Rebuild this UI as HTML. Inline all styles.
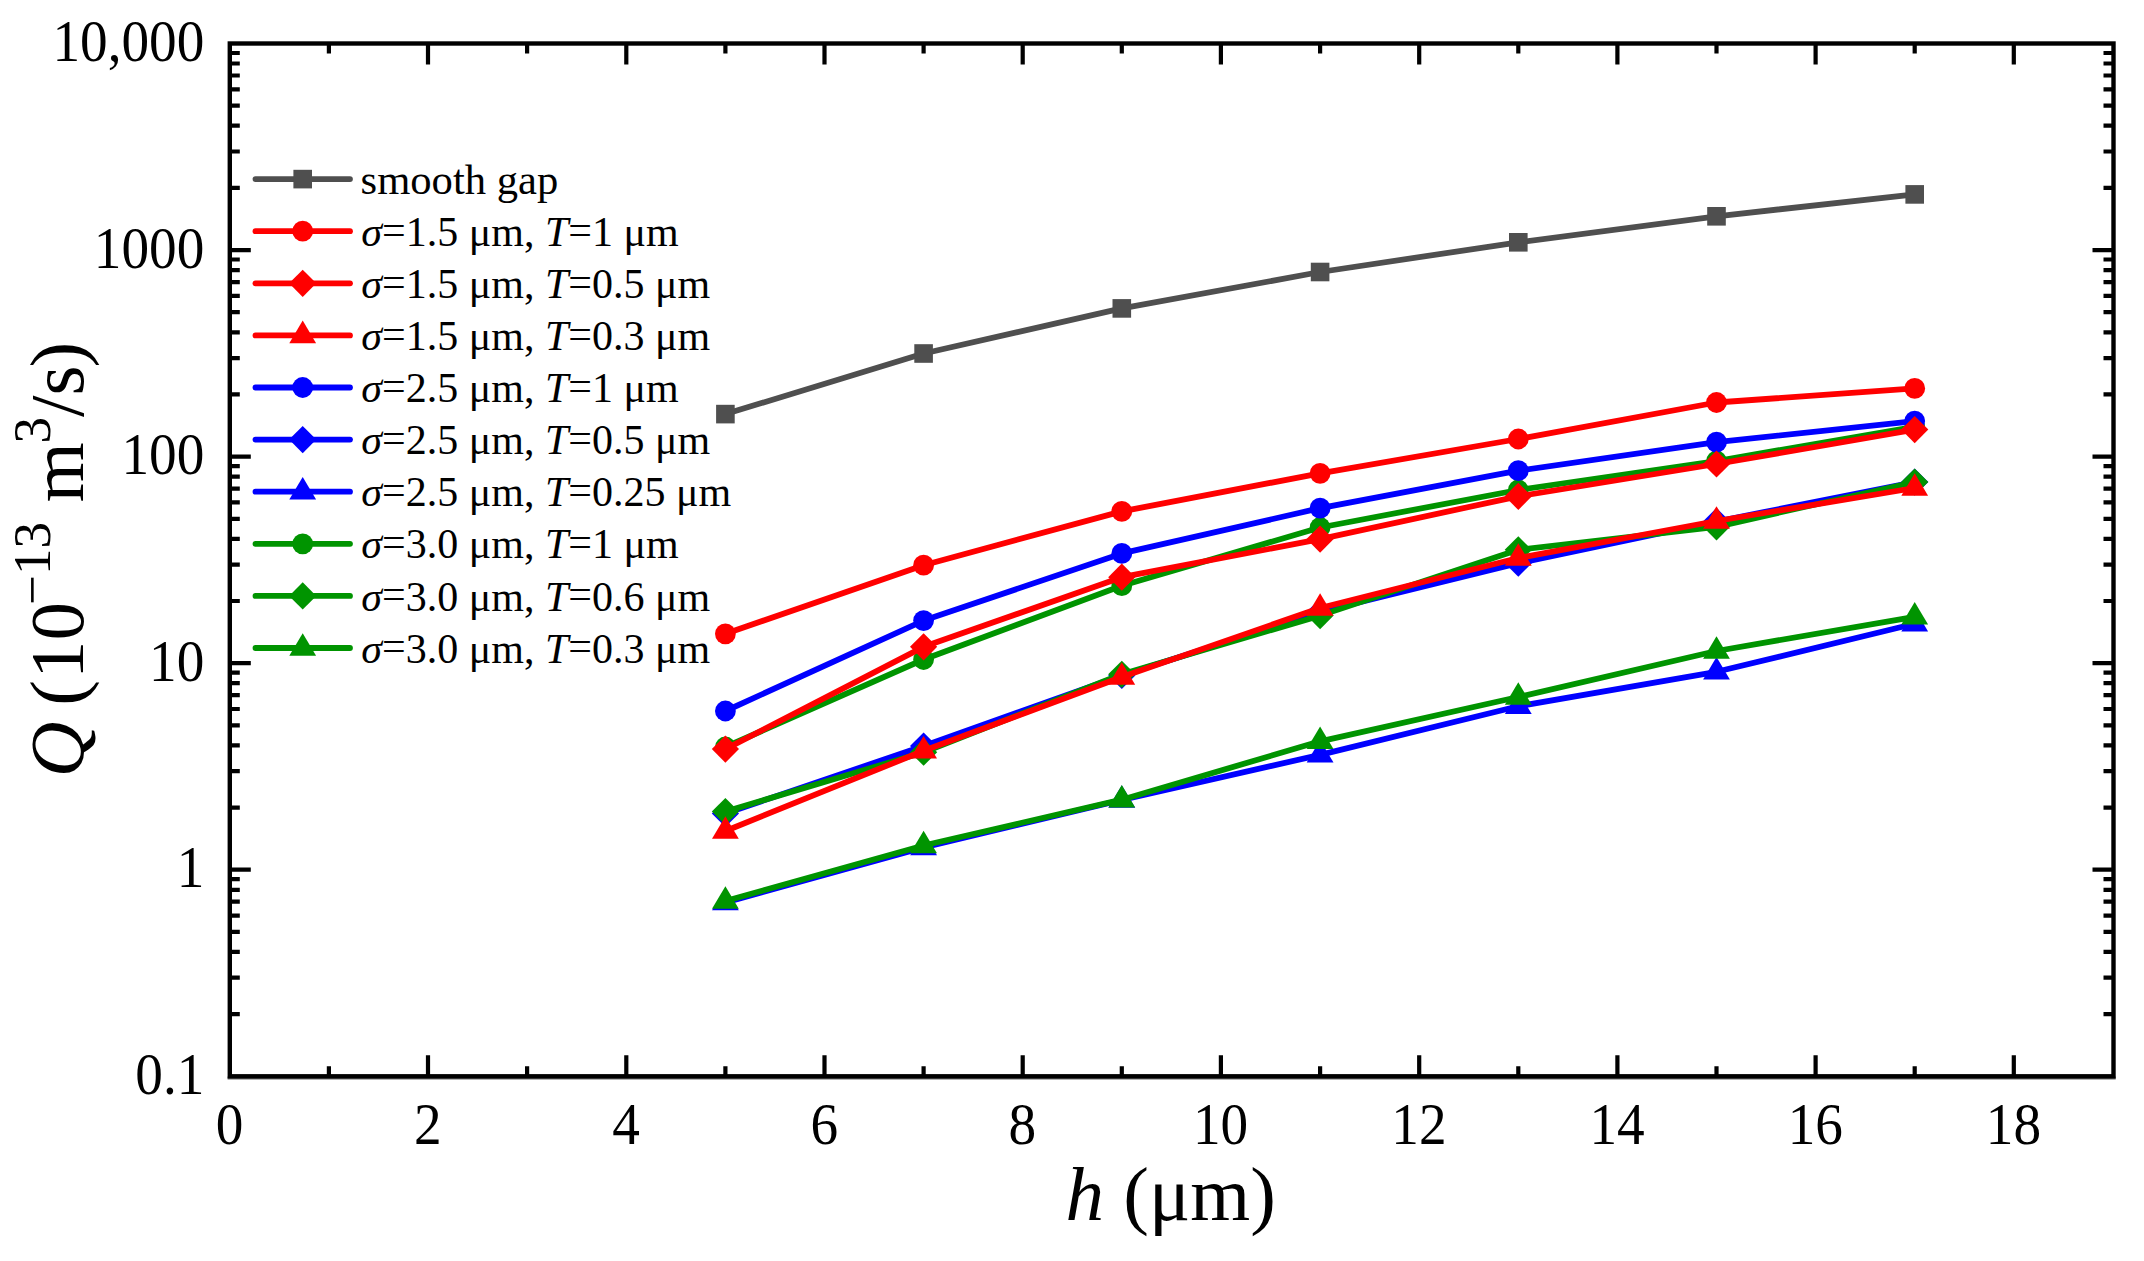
<!DOCTYPE html>
<html lang="en"><head><meta charset="utf-8"><title>Q versus h</title>
<style>
html,body{margin:0;padding:0;background:#fff;}
body{width:2144px;height:1261px;overflow:hidden;}
svg{display:block;}
text{font-family:"Liberation Serif","Times New Roman",serif;fill:#000;}
.tk{font-size:58.2px;}
.lg{font-size:42px;}
.ti{font-size:77px;}
.it{font-style:italic;}
</style></head><body>
<svg width="2144" height="1261" viewBox="0 0 2144 1261">
<rect x="0" y="0" width="2144" height="1261" fill="#ffffff"/>
<g stroke="#000" stroke-width="4.2" stroke-linecap="butt" fill="none">
<path d="M328.9 1076.3v-10.0M328.9 43.5v10.0"/>
<path d="M428.0 1076.3v-21.0M428.0 43.5v21.0"/>
<path d="M527.1 1076.3v-10.0M527.1 43.5v10.0"/>
<path d="M626.3 1076.3v-21.0M626.3 43.5v21.0"/>
<path d="M725.4 1076.3v-10.0M725.4 43.5v10.0"/>
<path d="M824.5 1076.3v-21.0M824.5 43.5v21.0"/>
<path d="M923.6 1076.3v-10.0M923.6 43.5v10.0"/>
<path d="M1022.7 1076.3v-21.0M1022.7 43.5v21.0"/>
<path d="M1121.8 1076.3v-10.0M1121.8 43.5v10.0"/>
<path d="M1220.9 1076.3v-21.0M1220.9 43.5v21.0"/>
<path d="M1320.1 1076.3v-10.0M1320.1 43.5v10.0"/>
<path d="M1419.2 1076.3v-21.0M1419.2 43.5v21.0"/>
<path d="M1518.3 1076.3v-10.0M1518.3 43.5v10.0"/>
<path d="M1617.4 1076.3v-21.0M1617.4 43.5v21.0"/>
<path d="M1716.5 1076.3v-10.0M1716.5 43.5v10.0"/>
<path d="M1815.6 1076.3v-21.0M1815.6 43.5v21.0"/>
<path d="M1914.7 1076.3v-10.0M1914.7 43.5v10.0"/>
<path d="M2013.8 1076.3v-21.0M2013.8 43.5v21.0"/>
<path d="M229.8 1014.1h10.0M2113.5 1014.1h-10.0"/>
<path d="M229.8 977.7h10.0M2113.5 977.7h-10.0"/>
<path d="M229.8 951.9h10.0M2113.5 951.9h-10.0"/>
<path d="M229.8 931.9h10.0M2113.5 931.9h-10.0"/>
<path d="M229.8 915.6h10.0M2113.5 915.6h-10.0"/>
<path d="M229.8 901.7h10.0M2113.5 901.7h-10.0"/>
<path d="M229.8 889.8h10.0M2113.5 889.8h-10.0"/>
<path d="M229.8 879.2h10.0M2113.5 879.2h-10.0"/>
<path d="M229.8 869.7h21.0M2113.5 869.7h-21.0"/>
<path d="M229.8 807.6h10.0M2113.5 807.6h-10.0"/>
<path d="M229.8 771.2h10.0M2113.5 771.2h-10.0"/>
<path d="M229.8 745.4h10.0M2113.5 745.4h-10.0"/>
<path d="M229.8 725.4h10.0M2113.5 725.4h-10.0"/>
<path d="M229.8 709.0h10.0M2113.5 709.0h-10.0"/>
<path d="M229.8 695.2h10.0M2113.5 695.2h-10.0"/>
<path d="M229.8 683.2h10.0M2113.5 683.2h-10.0"/>
<path d="M229.8 672.6h10.0M2113.5 672.6h-10.0"/>
<path d="M229.8 663.2h21.0M2113.5 663.2h-21.0"/>
<path d="M229.8 601.0h10.0M2113.5 601.0h-10.0"/>
<path d="M229.8 564.6h10.0M2113.5 564.6h-10.0"/>
<path d="M229.8 538.8h10.0M2113.5 538.8h-10.0"/>
<path d="M229.8 518.8h10.0M2113.5 518.8h-10.0"/>
<path d="M229.8 502.4h10.0M2113.5 502.4h-10.0"/>
<path d="M229.8 488.6h10.0M2113.5 488.6h-10.0"/>
<path d="M229.8 476.6h10.0M2113.5 476.6h-10.0"/>
<path d="M229.8 466.1h10.0M2113.5 466.1h-10.0"/>
<path d="M229.8 456.6h21.0M2113.5 456.6h-21.0"/>
<path d="M229.8 394.4h10.0M2113.5 394.4h-10.0"/>
<path d="M229.8 358.1h10.0M2113.5 358.1h-10.0"/>
<path d="M229.8 332.3h10.0M2113.5 332.3h-10.0"/>
<path d="M229.8 312.2h10.0M2113.5 312.2h-10.0"/>
<path d="M229.8 295.9h10.0M2113.5 295.9h-10.0"/>
<path d="M229.8 282.1h10.0M2113.5 282.1h-10.0"/>
<path d="M229.8 270.1h10.0M2113.5 270.1h-10.0"/>
<path d="M229.8 259.5h10.0M2113.5 259.5h-10.0"/>
<path d="M229.8 250.1h21.0M2113.5 250.1h-21.0"/>
<path d="M229.8 187.9h10.0M2113.5 187.9h-10.0"/>
<path d="M229.8 151.5h10.0M2113.5 151.5h-10.0"/>
<path d="M229.8 125.7h10.0M2113.5 125.7h-10.0"/>
<path d="M229.8 105.7h10.0M2113.5 105.7h-10.0"/>
<path d="M229.8 89.3h10.0M2113.5 89.3h-10.0"/>
<path d="M229.8 75.5h10.0M2113.5 75.5h-10.0"/>
<path d="M229.8 63.5h10.0M2113.5 63.5h-10.0"/>
<path d="M229.8 53.0h10.0M2113.5 53.0h-10.0"/>
</g>
<g><polyline points="725.4,414.1 923.6,353.5 1121.8,308.4 1320.1,272.0 1518.3,242.3 1716.5,216.3 1914.7,194.4" fill="none" stroke="#4f4f4f" stroke-width="5.8" stroke-linejoin="round" stroke-linecap="round"/>
<rect x="716.1" y="404.8" width="18.6" height="18.6" fill="#4f4f4f"/>
<rect x="914.3" y="344.2" width="18.6" height="18.6" fill="#4f4f4f"/>
<rect x="1112.5" y="299.1" width="18.6" height="18.6" fill="#4f4f4f"/>
<rect x="1310.8" y="262.7" width="18.6" height="18.6" fill="#4f4f4f"/>
<rect x="1509.0" y="233.0" width="18.6" height="18.6" fill="#4f4f4f"/>
<rect x="1707.2" y="207.0" width="18.6" height="18.6" fill="#4f4f4f"/>
<rect x="1905.4" y="185.1" width="18.6" height="18.6" fill="#4f4f4f"/>
</g>
<g><polyline points="725.4,747.0 923.6,659.5 1121.8,585.7 1320.1,527.5 1518.3,490.0 1716.5,461.0 1914.7,426.8" fill="none" stroke="#009400" stroke-width="5.8" stroke-linejoin="round" stroke-linecap="round"/>
<circle cx="725.4" cy="747.0" r="10.4" fill="#009400"/>
<circle cx="923.6" cy="659.5" r="10.4" fill="#009400"/>
<circle cx="1121.8" cy="585.7" r="10.4" fill="#009400"/>
<circle cx="1320.1" cy="527.5" r="10.4" fill="#009400"/>
<circle cx="1518.3" cy="490.0" r="10.4" fill="#009400"/>
<circle cx="1716.5" cy="461.0" r="10.4" fill="#009400"/>
<circle cx="1914.7" cy="426.8" r="10.4" fill="#009400"/>
</g>
<g><polyline points="725.4,711.0 923.6,620.6 1121.8,553.4 1320.1,508.2 1518.3,470.7 1716.5,442.2 1914.7,421.1" fill="none" stroke="#0000ff" stroke-width="5.8" stroke-linejoin="round" stroke-linecap="round"/>
<circle cx="725.4" cy="711.0" r="10.4" fill="#0000ff"/>
<circle cx="923.6" cy="620.6" r="10.4" fill="#0000ff"/>
<circle cx="1121.8" cy="553.4" r="10.4" fill="#0000ff"/>
<circle cx="1320.1" cy="508.2" r="10.4" fill="#0000ff"/>
<circle cx="1518.3" cy="470.7" r="10.4" fill="#0000ff"/>
<circle cx="1716.5" cy="442.2" r="10.4" fill="#0000ff"/>
<circle cx="1914.7" cy="421.1" r="10.4" fill="#0000ff"/>
</g>
<g><polyline points="725.4,813.5 923.6,746.0 1121.8,675.5 1320.1,612.0 1518.3,563.2 1716.5,521.5 1914.7,482.0" fill="none" stroke="#0000ff" stroke-width="5.8" stroke-linejoin="round" stroke-linecap="round"/>
<polygon points="725.4,799.9 739.0,813.5 725.4,827.1 711.8,813.5" fill="#0000ff"/>
<polygon points="923.6,732.4 937.2,746.0 923.6,759.6 910.0,746.0" fill="#0000ff"/>
<polygon points="1121.8,661.9 1135.4,675.5 1121.8,689.1 1108.2,675.5" fill="#0000ff"/>
<polygon points="1320.1,598.4 1333.7,612.0 1320.1,625.6 1306.5,612.0" fill="#0000ff"/>
<polygon points="1518.3,549.6 1531.9,563.2 1518.3,576.8 1504.7,563.2" fill="#0000ff"/>
<polygon points="1716.5,507.9 1730.1,521.5 1716.5,535.1 1702.9,521.5" fill="#0000ff"/>
<polygon points="1914.7,468.4 1928.3,482.0 1914.7,495.6 1901.1,482.0" fill="#0000ff"/>
</g>
<g><polyline points="725.4,902.5 923.6,847.5 1121.8,800.0 1320.1,754.8 1518.3,706.3 1716.5,671.8 1914.7,623.8" fill="none" stroke="#0000ff" stroke-width="5.8" stroke-linejoin="round" stroke-linecap="round"/>
<polygon points="725.4,887.7 738.8,910.3 712.0,910.3" fill="#0000ff"/>
<polygon points="923.6,832.7 937.0,855.3 910.2,855.3" fill="#0000ff"/>
<polygon points="1121.8,785.2 1135.2,807.8 1108.4,807.8" fill="#0000ff"/>
<polygon points="1320.1,740.0 1333.5,762.6 1306.7,762.6" fill="#0000ff"/>
<polygon points="1518.3,691.5 1531.7,714.1 1504.9,714.1" fill="#0000ff"/>
<polygon points="1716.5,657.0 1729.9,679.6 1703.1,679.6" fill="#0000ff"/>
<polygon points="1914.7,609.0 1928.1,631.6 1901.3,631.6" fill="#0000ff"/>
</g>
<g><polyline points="725.4,811.6 923.6,752.2 1121.8,674.3 1320.1,615.6 1518.3,549.8 1716.5,526.8 1914.7,482.0" fill="none" stroke="#009400" stroke-width="5.8" stroke-linejoin="round" stroke-linecap="round"/>
<polygon points="725.4,798.0 739.0,811.6 725.4,825.2 711.8,811.6" fill="#009400"/>
<polygon points="923.6,738.6 937.2,752.2 923.6,765.8 910.0,752.2" fill="#009400"/>
<polygon points="1121.8,660.7 1135.4,674.3 1121.8,687.9 1108.2,674.3" fill="#009400"/>
<polygon points="1320.1,602.0 1333.7,615.6 1320.1,629.2 1306.5,615.6" fill="#009400"/>
<polygon points="1518.3,536.2 1531.9,549.8 1518.3,563.4 1504.7,549.8" fill="#009400"/>
<polygon points="1716.5,513.2 1730.1,526.8 1716.5,540.4 1702.9,526.8" fill="#009400"/>
<polygon points="1914.7,468.4 1928.3,482.0 1914.7,495.6 1901.1,482.0" fill="#009400"/>
</g>
<g><polyline points="725.4,901.0 923.6,845.5 1121.8,799.7 1320.1,741.3 1518.3,697.0 1716.5,651.0 1914.7,616.8" fill="none" stroke="#009400" stroke-width="5.8" stroke-linejoin="round" stroke-linecap="round"/>
<polygon points="725.4,886.2 738.8,908.8 712.0,908.8" fill="#009400"/>
<polygon points="923.6,830.7 937.0,853.3 910.2,853.3" fill="#009400"/>
<polygon points="1121.8,784.9 1135.2,807.5 1108.4,807.5" fill="#009400"/>
<polygon points="1320.1,726.5 1333.5,749.1 1306.7,749.1" fill="#009400"/>
<polygon points="1518.3,682.2 1531.7,704.8 1504.9,704.8" fill="#009400"/>
<polygon points="1716.5,636.2 1729.9,658.8 1703.1,658.8" fill="#009400"/>
<polygon points="1914.7,602.0 1928.1,624.6 1901.3,624.6" fill="#009400"/>
</g>
<g><polyline points="725.4,831.0 923.6,750.8 1121.8,677.0 1320.1,608.0 1518.3,558.0 1716.5,521.0 1914.7,488.0" fill="none" stroke="#ff0000" stroke-width="5.8" stroke-linejoin="round" stroke-linecap="round"/>
<polygon points="725.4,816.2 738.8,838.8 712.0,838.8" fill="#ff0000"/>
<polygon points="923.6,736.0 937.0,758.6 910.2,758.6" fill="#ff0000"/>
<polygon points="1121.8,662.2 1135.2,684.8 1108.4,684.8" fill="#ff0000"/>
<polygon points="1320.1,593.2 1333.5,615.8 1306.7,615.8" fill="#ff0000"/>
<polygon points="1518.3,543.2 1531.7,565.8 1504.9,565.8" fill="#ff0000"/>
<polygon points="1716.5,506.2 1729.9,528.8 1703.1,528.8" fill="#ff0000"/>
<polygon points="1914.7,473.2 1928.1,495.8 1901.3,495.8" fill="#ff0000"/>
</g>
<g><polyline points="725.4,749.1 923.6,646.8 1121.8,577.2 1320.1,539.1 1518.3,496.3 1716.5,464.0 1914.7,429.6" fill="none" stroke="#ff0000" stroke-width="5.8" stroke-linejoin="round" stroke-linecap="round"/>
<polygon points="725.4,735.5 739.0,749.1 725.4,762.7 711.8,749.1" fill="#ff0000"/>
<polygon points="923.6,633.2 937.2,646.8 923.6,660.4 910.0,646.8" fill="#ff0000"/>
<polygon points="1121.8,563.6 1135.4,577.2 1121.8,590.8 1108.2,577.2" fill="#ff0000"/>
<polygon points="1320.1,525.5 1333.7,539.1 1320.1,552.7 1306.5,539.1" fill="#ff0000"/>
<polygon points="1518.3,482.7 1531.9,496.3 1518.3,509.9 1504.7,496.3" fill="#ff0000"/>
<polygon points="1716.5,450.4 1730.1,464.0 1716.5,477.6 1702.9,464.0" fill="#ff0000"/>
<polygon points="1914.7,416.0 1928.3,429.6 1914.7,443.2 1901.1,429.6" fill="#ff0000"/>
</g>
<g><polyline points="725.4,633.8 923.6,565.2 1121.8,511.4 1320.1,473.3 1518.3,439.0 1716.5,402.5 1914.7,388.4" fill="none" stroke="#ff0000" stroke-width="5.8" stroke-linejoin="round" stroke-linecap="round"/>
<circle cx="725.4" cy="633.8" r="10.4" fill="#ff0000"/>
<circle cx="923.6" cy="565.2" r="10.4" fill="#ff0000"/>
<circle cx="1121.8" cy="511.4" r="10.4" fill="#ff0000"/>
<circle cx="1320.1" cy="473.3" r="10.4" fill="#ff0000"/>
<circle cx="1518.3" cy="439.0" r="10.4" fill="#ff0000"/>
<circle cx="1716.5" cy="402.5" r="10.4" fill="#ff0000"/>
<circle cx="1914.7" cy="388.4" r="10.4" fill="#ff0000"/>
</g>
<rect x="229.8" y="43.5" width="1883.7" height="1032.8" fill="none" stroke="#000" stroke-width="4.4"/>
<line x1="227.6" y1="1077.9" x2="2115.7" y2="1077.9" stroke="#000" stroke-opacity="0.6" stroke-width="3"/>
<g class="tk" text-anchor="end">
<text transform="translate(204.4 60.9) scale(0.95 1)">10,000</text>
<text transform="translate(204.4 267.5) scale(0.95 1)">1000</text>
<text transform="translate(204.4 474.0) scale(0.95 1)">100</text>
<text transform="translate(204.4 680.6) scale(0.95 1)">10</text>
<text transform="translate(204.4 887.1) scale(0.95 1)">1</text>
<text transform="translate(204.4 1093.7) scale(0.95 1)">0.1</text>
</g>
<g class="tk" text-anchor="middle">
<text transform="translate(229.5 1143.6) scale(0.95 1)">0</text>
<text transform="translate(427.7 1143.6) scale(0.95 1)">2</text>
<text transform="translate(626.0 1143.6) scale(0.95 1)">4</text>
<text transform="translate(824.2 1143.6) scale(0.95 1)">6</text>
<text transform="translate(1022.4 1143.6) scale(0.95 1)">8</text>
<text transform="translate(1220.6 1143.6) scale(0.95 1)">10</text>
<text transform="translate(1418.9 1143.6) scale(0.95 1)">12</text>
<text transform="translate(1617.1 1143.6) scale(0.95 1)">14</text>
<text transform="translate(1815.3 1143.6) scale(0.95 1)">16</text>
<text transform="translate(2013.5 1143.6) scale(0.95 1)">18</text>
</g>
<text class="ti" x="1065.6" y="1220"><tspan class="it">h</tspan> (μm)</text>
<text class="ti" transform="translate(82.7 775) rotate(-90)"><tspan class="it" x="-2.3" y="0">Q</tspan><tspan x="50" y="0"> (</tspan><tspan x="95.9" y="0">10</tspan><tspan font-size="53" x="170.2" y="-32.5">−13</tspan><tspan x="253.6" y="0"> m</tspan><tspan font-size="53" x="331.4" y="-32.5">3</tspan><tspan x="358" y="0">/s</tspan><tspan x="407.5" y="0">)</tspan></text>
<g><line x1="255.5" y1="179.1" x2="350" y2="179.1" stroke="#4f4f4f" stroke-width="5.8" stroke-linecap="round"/>
<rect x="293.4" y="169.8" width="18.6" height="18.6" fill="#4f4f4f"/>
<text class="lg" style="font-size:42.6px" x="360.6" y="193.7">smooth gap</text>
</g>
<g><line x1="255.5" y1="231.2" x2="350" y2="231.2" stroke="#ff0000" stroke-width="5.8" stroke-linecap="round"/>
<circle cx="302.7" cy="231.2" r="10.4" fill="#ff0000"/>
<text class="lg" x="361.3" y="245.8"><tspan class="it">σ</tspan><tspan dy="-2.2">=</tspan><tspan dy="2.2">1.5 μm, </tspan><tspan class="it">T</tspan><tspan dy="-2.2">=</tspan><tspan dy="2.2">1 μm</tspan></text>
</g>
<g><line x1="255.5" y1="283.3" x2="350" y2="283.3" stroke="#ff0000" stroke-width="5.8" stroke-linecap="round"/>
<polygon points="302.7,269.7 316.3,283.3 302.7,296.9 289.1,283.3" fill="#ff0000"/>
<text class="lg" x="361.3" y="297.9"><tspan class="it">σ</tspan><tspan dy="-2.2">=</tspan><tspan dy="2.2">1.5 μm, </tspan><tspan class="it">T</tspan><tspan dy="-2.2">=</tspan><tspan dy="2.2">0.5 μm</tspan></text>
</g>
<g><line x1="255.5" y1="335.4" x2="350" y2="335.4" stroke="#ff0000" stroke-width="5.8" stroke-linecap="round"/>
<polygon points="302.7,320.6 316.1,343.2 289.3,343.2" fill="#ff0000"/>
<text class="lg" x="361.3" y="350.0"><tspan class="it">σ</tspan><tspan dy="-2.2">=</tspan><tspan dy="2.2">1.5 μm, </tspan><tspan class="it">T</tspan><tspan dy="-2.2">=</tspan><tspan dy="2.2">0.3 μm</tspan></text>
</g>
<g><line x1="255.5" y1="387.5" x2="350" y2="387.5" stroke="#0000ff" stroke-width="5.8" stroke-linecap="round"/>
<circle cx="302.7" cy="387.5" r="10.4" fill="#0000ff"/>
<text class="lg" x="361.3" y="402.1"><tspan class="it">σ</tspan><tspan dy="-2.2">=</tspan><tspan dy="2.2">2.5 μm, </tspan><tspan class="it">T</tspan><tspan dy="-2.2">=</tspan><tspan dy="2.2">1 μm</tspan></text>
</g>
<g><line x1="255.5" y1="439.6" x2="350" y2="439.6" stroke="#0000ff" stroke-width="5.8" stroke-linecap="round"/>
<polygon points="302.7,426.0 316.3,439.6 302.7,453.2 289.1,439.6" fill="#0000ff"/>
<text class="lg" x="361.3" y="454.2"><tspan class="it">σ</tspan><tspan dy="-2.2">=</tspan><tspan dy="2.2">2.5 μm, </tspan><tspan class="it">T</tspan><tspan dy="-2.2">=</tspan><tspan dy="2.2">0.5 μm</tspan></text>
</g>
<g><line x1="255.5" y1="491.7" x2="350" y2="491.7" stroke="#0000ff" stroke-width="5.8" stroke-linecap="round"/>
<polygon points="302.7,476.9 316.1,499.5 289.3,499.5" fill="#0000ff"/>
<text class="lg" x="361.3" y="506.3"><tspan class="it">σ</tspan><tspan dy="-2.2">=</tspan><tspan dy="2.2">2.5 μm, </tspan><tspan class="it">T</tspan><tspan dy="-2.2">=</tspan><tspan dy="2.2">0.25 μm</tspan></text>
</g>
<g><line x1="255.5" y1="543.8" x2="350" y2="543.8" stroke="#009400" stroke-width="5.8" stroke-linecap="round"/>
<circle cx="302.7" cy="543.8" r="10.4" fill="#009400"/>
<text class="lg" x="361.3" y="558.4"><tspan class="it">σ</tspan><tspan dy="-2.2">=</tspan><tspan dy="2.2">3.0 μm, </tspan><tspan class="it">T</tspan><tspan dy="-2.2">=</tspan><tspan dy="2.2">1 μm</tspan></text>
</g>
<g><line x1="255.5" y1="595.9" x2="350" y2="595.9" stroke="#009400" stroke-width="5.8" stroke-linecap="round"/>
<polygon points="302.7,582.3 316.3,595.9 302.7,609.5 289.1,595.9" fill="#009400"/>
<text class="lg" x="361.3" y="610.5"><tspan class="it">σ</tspan><tspan dy="-2.2">=</tspan><tspan dy="2.2">3.0 μm, </tspan><tspan class="it">T</tspan><tspan dy="-2.2">=</tspan><tspan dy="2.2">0.6 μm</tspan></text>
</g>
<g><line x1="255.5" y1="648.0" x2="350" y2="648.0" stroke="#009400" stroke-width="5.8" stroke-linecap="round"/>
<polygon points="302.7,633.2 316.1,655.8 289.3,655.8" fill="#009400"/>
<text class="lg" x="361.3" y="662.6"><tspan class="it">σ</tspan><tspan dy="-2.2">=</tspan><tspan dy="2.2">3.0 μm, </tspan><tspan class="it">T</tspan><tspan dy="-2.2">=</tspan><tspan dy="2.2">0.3 μm</tspan></text>
</g>
</svg>
</body></html>
